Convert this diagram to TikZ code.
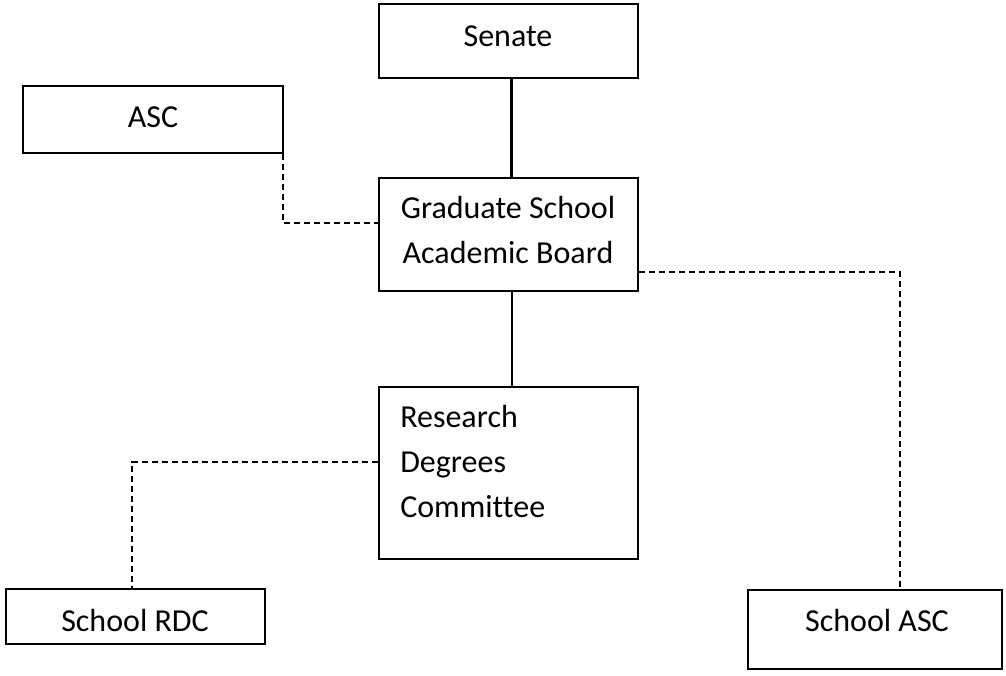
\documentclass[tikz,border=0pt]{standalone}
\usepackage{fontspec}
\setmainfont[Ligatures=NoCommon]{Carlito}
\usetikzlibrary{calc}
\tikzset{
  box/.style 2 args={draw, line width=1.5pt, rectangle, inner sep=0pt,
    minimum width=#1*0.75pt, minimum height=#2*0.75pt},
  txt/.style={inner sep=0pt, font=\fontsize{24pt}{33.5pt}\selectfont},
  solidlink/.style={line width=1.6pt},
  dashlink/.style={line width=1.5pt, dash pattern=on 4.5pt off 3pt},
}
\begin{document}
\begin{tikzpicture}[x=0.75pt, y=-0.75pt]
\useasboundingbox (0,0) rectangle (1006,675);
% boxes
\node[box={259}{74}]  (senate) at (508.5,41) {};
\node[box={260}{67}]  (asc)    at (153,119.5) {};
\node[box={259}{113}] (gsab)   at (508.5,234.5) {};
\node[box={259}{172}] (rdc)    at (508.5,473) {};
\node[box={259}{55}]  (srdc)   at (135.5,616.5) {};
\node[box={254}{79}]  (sasc)   at (875,629.5) {};
% texts
\node[txt, anchor=base] (senatet) at (508,46) {Senate};
\node[txt, anchor=base] (asct) at (153,127) {ASC};
\node[txt, anchor=base, align=center] (gsabt) at (508,263) {Graduate School\\Academic Board};
\node[txt, anchor=base west, align=left] (rdct) at (400,517) {Research\\Degrees\\Committee};
\node[txt, anchor=base] (srdct) at (135,631) {School RDC};
\node[txt, anchor=base] (sasct) at (877,631) {School ASC};
% connection points
\coordinate (senB)  at ([xshift=2.25pt]senate.south);
\coordinate (gsabT) at ([xshift=2.25pt]gsab.north);
\coordinate (gsabB) at ([xshift=2.6pt]gsab.south);
\coordinate (rdcT)  at ([xshift=2.6pt]rdc.north);
\coordinate (gsabL) at ($(gsab.north west)!0.4!(gsab.south west)$);
\coordinate (gsabR) at ($(gsab.north east)!0.83!(gsab.south east)$);
\coordinate (rdcL)  at ($(rdc.north west)!0.436!(rdc.south west)$);
\coordinate (ascD)  at ([xshift=-0.75pt]asc.south east);
\coordinate (sascT) at ([xshift=18.75pt]sasc.north);
\coordinate (srdcT) at ([xshift=-2.6pt]srdc.north);
% connectors
\draw[solidlink] (senB) -- (gsabT);
\draw[solidlink] (gsabB) -- (rdcT);
\draw[dashlink] (ascD) |- (gsabL);
\draw[dashlink] (gsabR) -| (sascT);
\draw[dashlink] (rdcL) -| (srdcT);
\end{tikzpicture}
\end{document}
